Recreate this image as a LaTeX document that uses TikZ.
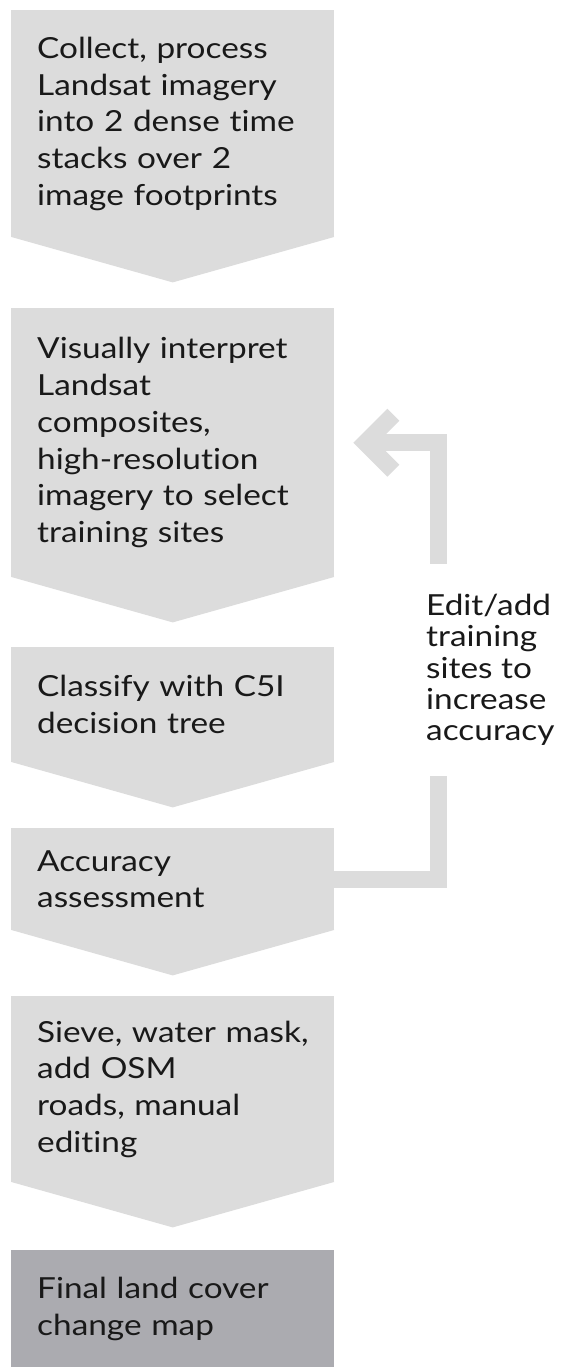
\documentclass[tikz,border=0pt]{standalone}
\usepackage{fontspec}
\setmainfont{Lato}[FakeStretch=1.15,Ligatures=NoCommon]
\usetikzlibrary{arrows.meta,positioning}
\definecolor{stepgray}{RGB}{220,220,220}
\definecolor{finalgray}{RGB}{171,171,176}
\definecolor{inkblack}{RGB}{25,25,25}

\begin{document}
\begin{tikzpicture}[x=1pt,y=-1pt,
	stepbox/.style={fill=stepgray,anchor=north west,minimum width=323pt,text width=271pt,
		inner xsep=26pt,inner ysep=0pt,align=left,text=inkblack,font=\fontsize{29}{36.7}\selectfont},
	loopline/.style={draw=stepgray,line width=17pt,line join=miter}]
	\useasboundingbox (0,0) rectangle (560,1367);

	\node[stepbox,minimum height=227pt] (collect) at (11,10) {Collect, process\\Landsat imagery\\into 2 dense time\\stacks over 2\\image footprints};
	\node[stepbox,minimum height=269pt] (interp) at (11,308) {Visually interpret\\Landsat\\composites,\\high-resolution\\imagery to select\\training sites};
	\node[stepbox,minimum height=115pt] (classify) at (11,647) {Classify with C5I\\decision tree};
	\node[stepbox,minimum height=102pt] (assess) at (11,828) {Accuracy\\assessment};
	\node[stepbox,minimum height=186pt] (sieve) at (11,996) {\mbox{Sieve, water mask,}\\add OSM\\roads, manual\\editing};
	\node[stepbox,fill=finalgray,minimum height=117pt] (final) at (11,1250) {Final land cover\\change map};

	% chevron points under each step
	\foreach \s in {collect,interp,classify,assess,sieve}
		\fill[stepgray] ([yshift=0.5pt]\s.south west) -- ([yshift=0.5pt]\s.south east) -- ([yshift=-45pt]\s.south) -- cycle;

	% feedback loop
	\draw[loopline,-{Straight Barb[length=28pt,width=56pt,sharp]}] (assess.east) -- ++(104.5,0) |- ([xshift=19pt]interp.east);
	\node[fill=white,anchor=west,inner xsep=2pt,inner ysep=30pt,align=left,text=inkblack,
		font=\fontsize{29}{31.3}\selectfont] (edit) at (424,670) {Edit/add\\training\\sites to\\increase\\accuracy};
\end{tikzpicture}
\end{document}
